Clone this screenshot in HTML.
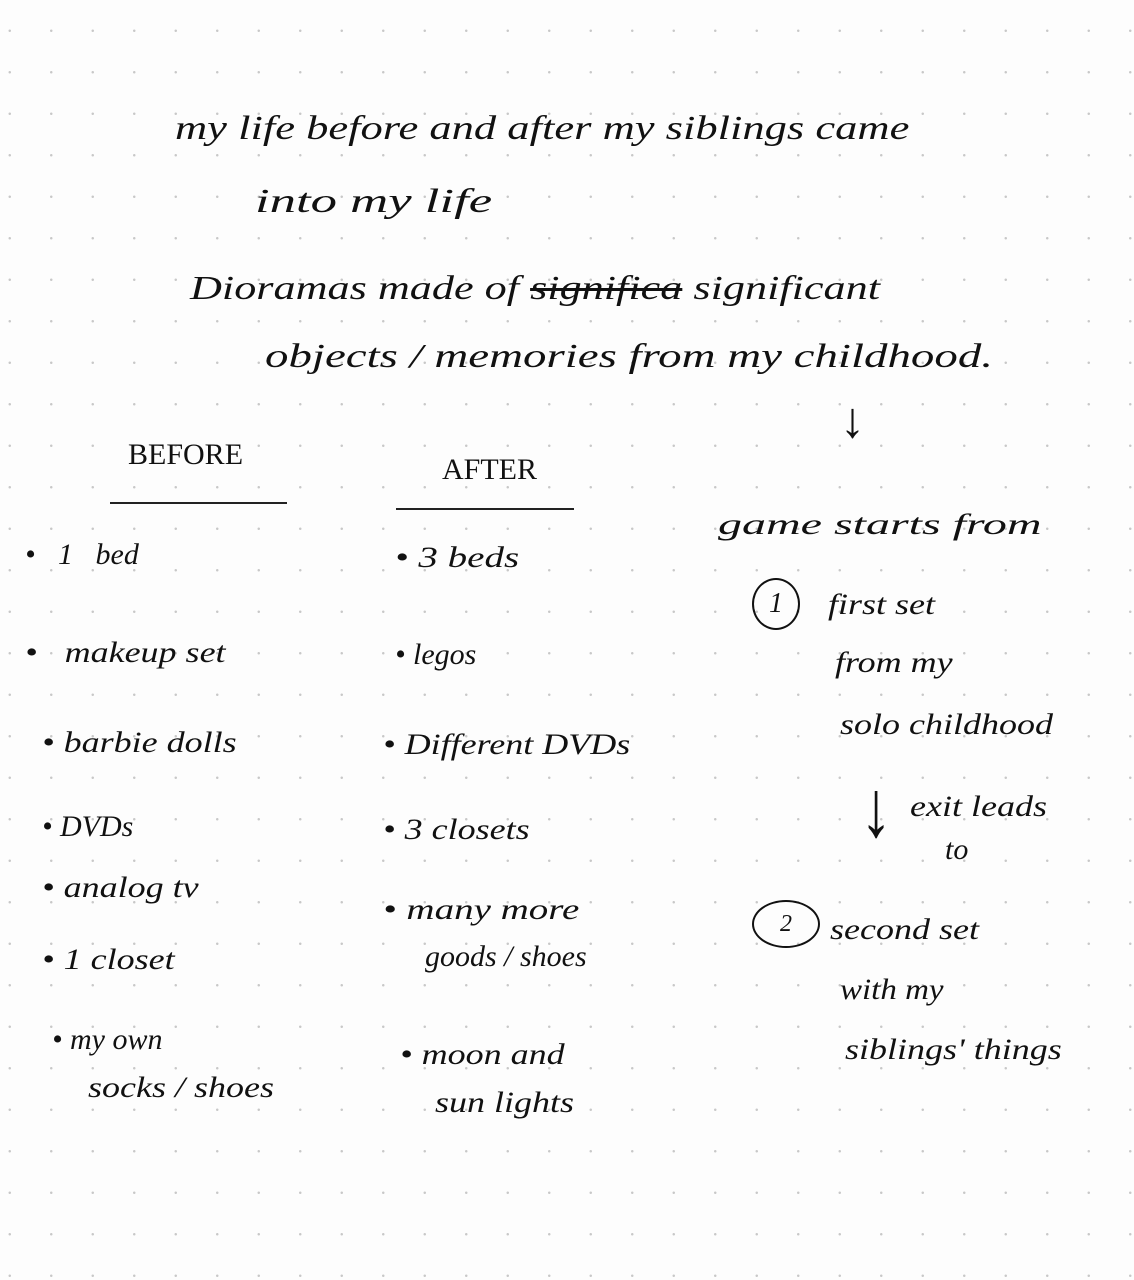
<!DOCTYPE html>
<html><head><meta charset="utf-8"><style>
html,body{margin:0;padding:0}
body{width:1134px;height:1280px;position:relative;overflow:hidden;background:#fdfdfd;
background-image:radial-gradient(circle,#c8c8c8 1px,transparent 1.5px);background-size:41.5px 41.5px;background-position:-11px 10px;
font-family:"Liberation Serif",serif;font-style:italic;color:#111}
.t{position:absolute;white-space:nowrap;font-size:34px;line-height:1;transform-origin:0 50%}
.s{font-size:30px}
.ul{position:absolute;height:2px;background:#222}
</style></head><body>
<div class="t" style="left:175px;top:112px;transform:scaleX(1.31)">my life before and after my siblings came</div>
<div class="t" style="left:255px;top:185px;transform:scaleX(1.55)">into my life</div>
<div class="t" style="left:190px;top:272px;transform:scaleX(1.3)">Dioramas made of <s>significa</s> significant</div>
<div class="t" style="left:265px;top:340px;transform:scaleX(1.38)">objects / memories from my childhood.</div>
<div class="t" style="left:840px;top:395px;font-style:normal;font-size:50px">↓</div>
<div class="t" style="left:128px;top:440px;font-style:normal;font-size:30px">BEFORE</div>
<div class="ul" style="left:110px;top:502px;width:177px"></div>
<div class="t" style="left:442px;top:455px;font-style:normal;font-size:30px">AFTER</div>
<div class="ul" style="left:396px;top:508px;width:178px"></div>
<div class="t s" style="left:25px;top:540px">•&nbsp;&nbsp;&nbsp;1&nbsp;&nbsp;&nbsp;bed</div>
<div class="t s" style="left:25px;top:638px;transform:scaleX(1.2)">•&nbsp;&nbsp;&nbsp;makeup set</div>
<div class="t s" style="left:42px;top:728px;transform:scaleX(1.2)">•&nbsp;barbie dolls</div>
<div class="t s" style="left:42px;top:812px">•&nbsp;DVDs</div>
<div class="t s" style="left:42px;top:873px;transform:scaleX(1.2)">•&nbsp;analog tv</div>
<div class="t s" style="left:42px;top:945px;transform:scaleX(1.2)">•&nbsp;1 closet</div>
<div class="t s" style="left:52px;top:1025px">•&nbsp;my own</div>
<div class="t s" style="left:88px;top:1073px;transform:scaleX(1.2)">socks / shoes</div>
<div class="t s" style="left:395px;top:543px;transform:scaleX(1.3)">• 3 beds</div>
<div class="t s" style="left:395px;top:640px">• legos</div>
<div class="t s" style="left:383px;top:730px;transform:scaleX(1.2)">• Different DVDs</div>
<div class="t s" style="left:383px;top:815px;transform:scaleX(1.2)">• 3 closets</div>
<div class="t s" style="left:383px;top:895px;transform:scaleX(1.3)">• many more</div>
<div class="t s" style="left:425px;top:942px">goods / shoes</div>
<div class="t s" style="left:400px;top:1040px;transform:scaleX(1.2)">• moon and</div>
<div class="t s" style="left:435px;top:1088px;transform:scaleX(1.2)">sun lights</div>
<div class="t s" style="left:718px;top:510px;transform:scaleX(1.6)">game starts from</div>
<div class="t" style="left:752px;top:578px;width:44px;height:48px;border:2px solid #111;border-radius:50%;text-align:center;font-size:28px;line-height:48px">1</div>
<div class="t s" style="left:828px;top:590px;transform:scaleX(1.2)">first set</div>
<div class="t s" style="left:835px;top:648px;transform:scaleX(1.2)">from my</div>
<div class="t s" style="left:840px;top:710px;transform:scaleX(1.2)">solo childhood</div>
<div class="t" style="left:860px;top:770px;font-style:normal;font-size:80px;transform:scaleX(0.8)">↓</div>
<div class="t s" style="left:910px;top:792px;transform:scaleX(1.2)">exit leads</div>
<div class="t s" style="left:945px;top:835px">to</div>
<div class="t" style="left:752px;top:900px;width:64px;height:44px;border:2px solid #111;border-radius:50%;text-align:center;font-size:24px;line-height:44px">2</div>
<div class="t s" style="left:830px;top:915px;transform:scaleX(1.2)">second set</div>
<div class="t s" style="left:840px;top:975px;transform:scaleX(1.1)">with my</div>
<div class="t s" style="left:845px;top:1035px;transform:scaleX(1.2)">siblings' things</div>
</body></html>
